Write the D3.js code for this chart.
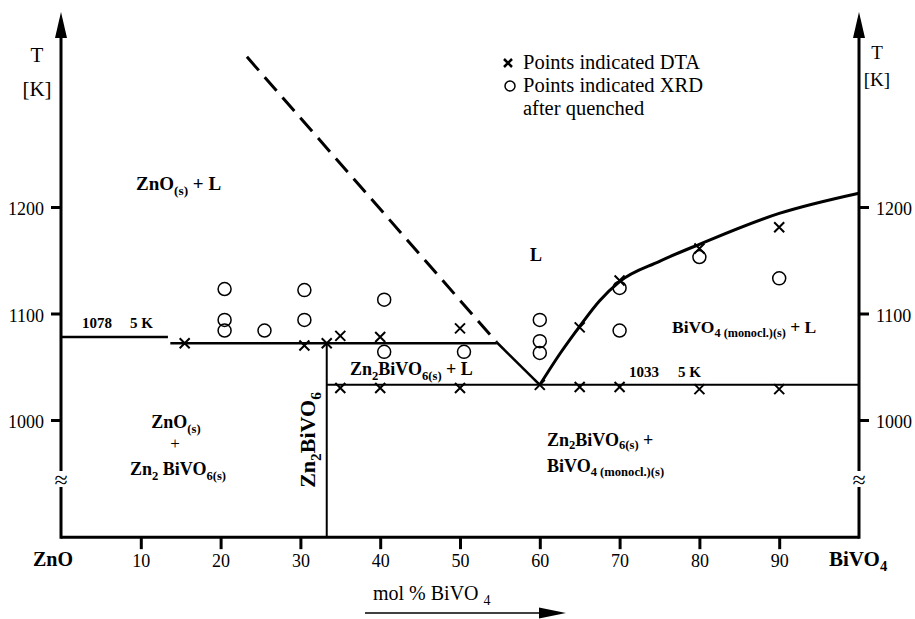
<!DOCTYPE html>
<html><head><meta charset="utf-8">
<script src="https://cdn.jsdelivr.net/npm/d3@7"></script>
<style>body{margin:0;background:#fff}svg{display:block}text{font-family:"Liberation Serif","DejaVu Serif",serif;fill:#000}</style>
</head><body><svg id="c" width="915" height="619"></svg>
<script>
// ---- data ----
const xTicks = [10,20,30,40,50,60,70,80,90];
const yTicks = [1000,1100,1200];
const liquidusRight = [[60,1033],[62.5,1062],[65,1088],[67.5,1112],[70,1130],[75,1149],[80,1165],[90,1194],[100,1213]];
const liquidusDashed = [[23.3,1341],[54.6,1073]];
const liquidusLeftSolid = [[54.6,1073],[60,1033]];
const peritecticLeft = [[0,1078],[13.4,1078]];
const peritecticMid = [[13.7,1072],[54.6,1072]];
const eutectic = [[33.3,1033],[100,1033]];
const compoundLine = [[33.3,1072],[33.3,890]];
const dtaPoints = [[15.5,1072],[30.5,1070],[33.3,1072],[35,1079],[40,1078],[50,1086],
  [35,1030],[40,1030],[50,1030],[60,1033],[65,1031],[70,1031],[80,1029],[90,1029],
  [65,1087],[70,1131],[80,1161],[90,1181]];
const xrdPoints = [[20.5,1123],[20.5,1094],[20.5,1084],[25.5,1084],[30.5,1122],[30.5,1094],
  [40.5,1113],[40.5,1064],[50.5,1064],[60,1094],[60,1074],[60,1063],
  [70,1124],[70,1084],[80,1153],[90,1133]];

const svg = d3.select("#c");
const x = d3.scaleLinear().domain([0,100]).range([61,859]);
const y = d3.scaleLinear().domain([1000,1200]).range([420,207]);
const yBottom = 890, yTop = 1383;
const line = d3.line().x(d=>x(d[0])).y(d=>y(d[1]));
const lineC = d3.line().x(d=>x(d[0])).y(d=>y(d[1])).curve(d3.curveMonotoneX);

// axes lines
const ax = svg.append("g").attr("stroke","#000").attr("fill","none");
ax.append("path").attr("d", `M${x(0)},${y(yBottom)}H${x(100)}`).attr("stroke-width",3);
[0,100].forEach(v=>{
  ax.append("path").attr("d", `M${x(v)},${y(yBottom)+1.5}V${y(yTop)+20}`).attr("stroke-width",3);
  svg.append("path").attr("d", `M${x(v)},${y(yTop)}L${x(v)-6},${y(yTop)+26}L${x(v)+6},${y(yTop)+26}Z`).attr("fill","#000");
});

// ticks via d3 axes
const fs = 18;
const gl = svg.append("g").attr("transform",`translate(${x(0)},0)`)
  .call(d3.axisLeft(y).tickValues(yTicks).tickSize(10).tickPadding(7).tickFormat(d3.format("d")));
const gr = svg.append("g").attr("transform",`translate(${x(100)},0)`)
  .call(d3.axisRight(y).tickValues(yTicks).tickSize(10).tickPadding(7).tickFormat(d3.format("d")));
const gb = svg.append("g").attr("transform",`translate(0,${y(yBottom)})`)
  .call(d3.axisBottom(x).tickValues(xTicks).tickSize(12).tickPadding(5).tickFormat(d3.format("d")));
[gl,gr,gb].forEach(g=>{
  g.select(".domain").remove();
  g.selectAll(".tick line").attr("stroke","#000").attr("stroke-width",3);
  g.selectAll(".tick text").attr("font-family","Liberation Serif").attr("font-size",fs).attr("fill","#000");
});
gl.selectAll(".tick text").attr("dy","0.42em");
gr.selectAll(".tick text").attr("dy","0.42em");

// axis breaks
[0,100].forEach(v=>{
  svg.append("rect").attr("x",x(v)-6).attr("y",471).attr("width",12).attr("height",16).attr("fill","#fff");
  svg.append("text").attr("x",x(v)).attr("y",488).attr("text-anchor","middle").attr("font-size",24).text("≈");
});

// phase lines
const pl = svg.append("g").attr("fill","none").attr("stroke","#000");
pl.append("path").attr("d",lineC(liquidusRight)).attr("stroke-width",3);
pl.append("path").attr("d",line(liquidusDashed)).attr("stroke-width",3).attr("stroke-dasharray","18,9");
pl.append("path").attr("d",line(liquidusLeftSolid)).attr("stroke-width",2.5);
pl.append("path").attr("d",line(peritecticLeft)).attr("stroke-width",2.5);
pl.append("path").attr("d",line(peritecticMid)).attr("stroke-width",2.5);
pl.append("path").attr("d",line(eutectic)).attr("stroke-width",2);
pl.append("path").attr("d",line(compoundLine)).attr("stroke-width",2);

// points
const crossPath = (cx,cy,s)=>`M${cx-s},${cy-s}L${cx+s},${cy+s}M${cx-s},${cy+s}L${cx+s},${cy-s}`;
svg.append("g").selectAll("path").data(dtaPoints).join("path")
  .attr("d",d=>crossPath(x(d[0]),y(d[1]),5)).attr("stroke","#000").attr("stroke-width",2);
svg.append("g").selectAll("circle").data(xrdPoints).join("circle")
  .attr("cx",d=>x(d[0])).attr("cy",d=>y(d[1])).attr("r",6.5)
  .attr("fill","none").attr("stroke","#000").attr("stroke-width",1.5);

// text helpers
function rich(xp,yp,parts,opts={}){
  const size = opts.size||17;
  const drop = opts.drop!==undefined ? opts.drop : 0.25;
  const t = svg.append("text").attr("x",xp).attr("y",yp).attr("font-size",size)
    .attr("font-weight",opts.weight||"bold").attr("text-anchor",opts.anchor||"start");
  if(opts.rotate) t.attr("transform",`rotate(${opts.rotate},${xp},${yp})`);
  parts.forEach(p=>{
    const s = t.append("tspan").text(p[0]);
    if(p[1]==="sub") s.attr("font-size",size*0.7).attr("dy",size*drop);
    else if(p[1]==="up") s.attr("dy",-size*drop);
  });
  return t;
}

// axis titles
svg.append("text").attr("x",37).attr("y",62).attr("text-anchor","middle").attr("font-size",21).text("T");
svg.append("text").attr("x",37).attr("y",96).attr("text-anchor","middle").attr("font-size",21).text("[K]");
svg.append("text").attr("x",877).attr("y",59).attr("text-anchor","middle").attr("font-size",19).text("T");
svg.append("text").attr("x",877).attr("y",86).attr("text-anchor","middle").attr("font-size",19).text("[K]");

// legend
svg.append("path").attr("d",crossPath(508,63,4)).attr("stroke","#000").attr("stroke-width",2.5);
svg.append("circle").attr("cx",510).attr("cy",86).attr("r",5).attr("fill","none").attr("stroke","#000").attr("stroke-width",1.5);
svg.append("text").attr("x",523).attr("y",69).attr("font-size",20.5).text("Points indicated DTA");
svg.append("text").attr("x",523).attr("y",92).attr("font-size",20.5).text("Points indicated XRD");
svg.append("text").attr("x",523).attr("y",115).attr("font-size",20.5).text("after quenched");

// x end labels
rich(33,566,[["ZnO"]],{size:20});
rich(829,566,[["BiVO"],["4","sub"]],{size:21});

// bottom title + arrow
rich(373,600,[["mol % BiVO "],["4","sub"]],{size:20,weight:"normal"});
svg.append("path").attr("d","M365,613H545").attr("stroke","#000").attr("stroke-width",1.5);
svg.append("path").attr("d","M566,613L539,607.5L539,618.5Z").attr("fill","#000");

// region labels
rich(136,190,[["ZnO"],["(s)","sub"],[" + L","up"]],{size:19});
rich(530,261,[["L"]],{size:18});
rich(82,328,[["1078"]],{size:15});
rich(130,328,[["5 K"]],{size:15});
rich(629,377,[["1033"]],{size:15});
rich(678,377,[["5 K"]],{size:15});
rich(350,375,[["Zn"],["2","sub"],["BiVO","up"],["6(s)","sub"],[" + L","up"]],{size:18});
rich(176,428,[["ZnO"],["(s)","sub"]],{size:18,anchor:"middle"});
svg.append("text").attr("x",175).attr("y",449).attr("text-anchor","middle").attr("font-size",17).text("+");
rich(178,475,[["Zn"],["2","sub"],[" BiVO","up"],["6(s)","sub"]],{size:18,anchor:"middle"});
rich(315,440,[["Zn"],["2","sub"],["BiVO","up"],["6","sub"]],{size:22,anchor:"middle",rotate:-90});
rich(672,333,[["BiVO"],["4 (monocl.)(s)","sub"],[" + L","up"]],{size:17.5});
rich(547,446,[["Zn"],["2","sub"],["BiVO","up"],["6(s)","sub"],[" +","up"]],{size:18,drop:0.18});
rich(547,472,[["BiVO"],["4 (monocl.)(s)","sub"]],{size:18,drop:0.2});
</script></body></html>
